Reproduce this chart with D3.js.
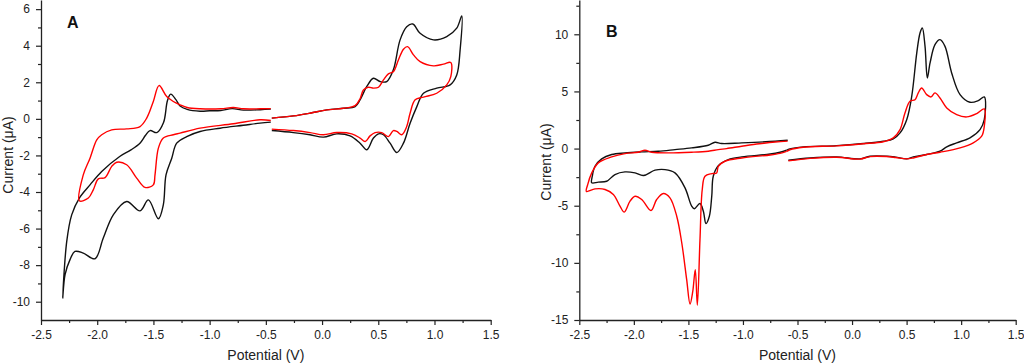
<!DOCTYPE html>
<html>
<head>
<meta charset="utf-8">
<script src="https://cdn.jsdelivr.net/npm/d3@7.9.0/dist/d3.min.js"></script>
<style>
  html, body { margin: 0; padding: 0; background: #fff; }
  svg { display: block; font-family: "Liberation Sans", Arial, sans-serif; }
</style>
</head>
<body>
<svg id="chart" width="1024" height="364"></svg>
<script>
// [potential (V), current (uA)], one loop per array

// panel A
const aBlackNeg = [
  [-0.456, 0.53], [-0.55, 0.50], [-0.70, 0.48], [-0.80, 0.56], [-0.90, 0.46], [-1.00, 0.44],
  [-1.085, 0.42], [-1.20, 0.52], [-1.263, 0.70], [-1.30, 1.05], [-1.346, 1.35], [-1.375, 1.0],
  [-1.41, -0.2], [-1.47, -0.75], [-1.53, -0.64], [-1.57, -0.9], [-1.62, -1.33], [-1.70, -1.70],
  [-1.80, -2.06], [-1.96, -2.88], [-2.064, -3.61], [-2.159, -4.33], [-2.227, -5.25],
  [-2.271, -6.7], [-2.307, -9.8],
  [-2.286, -8.52], [-2.242, -7.7], [-2.198, -7.25], [-2.124, -7.34], [-2.02, -7.65],
  [-1.946, -6.52], [-1.857, -5.25], [-1.738, -4.52], [-1.619, -5.03], [-1.545, -4.43],
  [-1.456, -5.46], [-1.412, -4.7], [-1.388, -3.06], [-1.337, -2.15], [-1.293, -1.33],
  [-1.204, -0.97], [-1.085, -0.69], [-0.907, -0.51], [-0.70, -0.35], [-0.552, -0.235], [-0.456, -0.18]
];
const aRedNeg = [
  [-0.456, 0.56], [-0.55, 0.55], [-0.70, 0.55], [-0.79, 0.62], [-0.90, 0.55], [-1.085, 0.55],
  [-1.20, 0.62], [-1.263, 0.77], [-1.323, 0.95], [-1.382, 1.22], [-1.45, 1.82], [-1.501, 0.95],
  [-1.56, 0.04], [-1.619, -0.42], [-1.738, -0.55], [-1.871, -0.60], [-1.96, -0.87],
  [-2.004, -1.15], [-2.064, -2.15], [-2.124, -3.06], [-2.159, -4.48],
  [-2.079, -4.33], [-2.035, -3.88], [-1.99, -3.28], [-1.93, -3.21], [-1.871, -2.60],
  [-1.826, -2.37], [-1.738, -2.51], [-1.649, -3.24], [-1.575, -3.75], [-1.501, -3.61],
  [-1.486, -3.06], [-1.456, -1.60], [-1.412, -1.05], [-1.323, -0.87], [-1.263, -0.78],
  [-1.085, -0.51], [-0.789, -0.27], [-0.552, -0.05], [-0.456, -0.09]
];
const aBlackPos = [
  [-0.447, 0.04], [-0.255, 0.16], [-0.107, 0.31], [0.042, 0.49], [0.19, 0.58], [0.294, 0.67],
  [0.338, 1.04], [0.398, 1.77], [0.457, 2.22], [0.516, 2.04], [0.575, 2.04], [0.634, 2.68],
  [0.694, 4.32], [0.753, 5.04], [0.807, 5.19], [0.872, 4.68], [0.991, 4.32], [1.109, 4.50],
  [1.198, 4.96], [1.243, 5.63],
  [1.228, 3.77], [1.198, 2.40], [1.139, 1.86], [1.02, 1.68], [0.902, 1.40], [0.843, 0.67],
  [0.783, -0.24], [0.724, -1.33], [0.665, -1.84], [0.605, -1.33], [0.546, -0.87], [0.502, -0.82],
  [0.457, -1.05], [0.398, -1.69], [0.338, -1.33], [0.249, -0.93], [0.13, -0.82], [0.012, -1.0],
  [-0.107, -0.87], [-0.255, -0.75], [-0.447, -0.64]
];
const aRedPos = [
  [-0.447, 0.04], [-0.255, 0.16], [-0.107, 0.31], [0.042, 0.49], [0.19, 0.58], [0.294, 0.72],
  [0.338, 1.1], [0.368, 1.58], [0.412, 1.73], [0.457, 1.68], [0.502, 1.73], [0.546, 2.13],
  [0.59, 2.46], [0.634, 2.58], [0.679, 3.22], [0.724, 3.81], [0.76, 3.95], [0.813, 3.50],
  [0.872, 3.13], [0.991, 2.90], [1.08, 2.99], [1.145, 3.08],
  [1.145, 2.31], [1.109, 1.86], [1.02, 1.40], [0.902, 1.19], [0.828, 1.04], [0.783, 0.31],
  [0.753, -0.42], [0.709, -0.87], [0.665, -0.69], [0.634, -0.64], [0.59, -0.97], [0.531, -0.75],
  [0.472, -0.75], [0.427, -0.93], [0.383, -1.24], [0.338, -1.05], [0.264, -0.82], [0.13, -0.75],
  [0.012, -0.87], [-0.107, -0.75], [-0.255, -0.64], [-0.447, -0.56]
];

// panel B
const bBlackNeg = [
  [-0.59, 0.73], [-0.705, 0.64], [-1.011, 0.50], [-1.195, 0.44], [-1.256, 0.55], [-1.318, 0.29],
  [-1.47, 0.06], [-1.623, -0.09], [-1.776, -0.23], [-1.928, -0.29], [-2.081, -0.38],
  [-2.203, -0.52], [-2.295, -0.90], [-2.356, -1.55], [-2.381, -2.42], [-2.386, -3.0],
  [-2.326, -2.94], [-2.249, -2.86], [-2.173, -2.27], [-2.081, -2.04], [-1.989, -2.13],
  [-1.913, -2.36], [-1.806, -1.89], [-1.714, -1.84], [-1.623, -2.13], [-1.531, -3.44],
  [-1.47, -5.04], [-1.446, -5.27], [-1.394, -4.81], [-1.363, -5.48], [-1.339, -6.56],
  [-1.308, -5.92], [-1.286, -4.17], [-1.272, -2.42], [-1.226, -1.49], [-1.134, -0.96],
  [-1.011, -0.73], [-0.75, -0.48], [-0.66, -0.32], [-0.60, -0.15]
];
const bRedNeg = [
  [-0.59, 0.65], [-0.705, 0.58], [-0.85, 0.42], [-1.011, 0.2], [-1.15, 0.0], [-1.226, -0.09],
  [-1.318, -0.23], [-1.47, -0.32], [-1.684, -0.38], [-1.837, -0.32], [-1.898, -0.15],
  [-1.959, -0.32], [-2.081, -0.44], [-2.203, -0.73], [-2.326, -1.25], [-2.386, -2.13],
  [-2.423, -3.15], [-2.435, -3.75],
  [-2.356, -3.53], [-2.264, -3.58], [-2.188, -4.02], [-2.127, -5.04], [-2.088, -5.56],
  [-2.035, -4.6], [-1.989, -4.17], [-1.928, -4.46], [-1.843, -5.42], [-1.791, -4.46],
  [-1.73, -3.93], [-1.669, -4.31], [-1.607, -5.92], [-1.561, -8.24], [-1.516, -11.45],
  [-1.485, -13.6], [-1.46, -12.5], [-1.437, -10.6], [-1.418, -13.7], [-1.394, -8.0],
  [-1.373, -3.58], [-1.348, -2.42], [-1.286, -2.19], [-1.241, -2.13], [-1.226, -1.55],
  [-1.165, -1.11], [-1.011, -0.82], [-0.75, -0.56], [-0.66, -0.42], [-0.60, -0.25]
];
const bBlackPos = [
  [-0.60, -0.15], [-0.57, -0.03], [-0.447, 0.15], [-0.141, 0.26], [0.103, 0.44], [0.286, 0.64],
  [0.378, 0.85], [0.44, 1.37], [0.501, 2.53], [0.547, 4.57], [0.593, 8.36], [0.623, 10.11],
  [0.644, 10.55], [0.669, 8.94], [0.69, 6.18], [0.715, 7.49], [0.76, 9.09], [0.806, 9.53],
  [0.852, 8.94], [0.913, 6.62], [0.99, 4.72], [1.081, 4.05], [1.157, 4.2], [1.212, 4.52],
  [1.212, 2.53], [1.173, 1.66], [1.081, 0.94], [0.959, 0.50], [0.868, 0.15], [0.806, -0.23],
  [0.684, -0.52], [0.561, -0.73], [0.501, -0.90], [0.40, -0.75], [0.318, -0.67], [0.165, -0.67],
  [0.073, -0.9], [-0.141, -0.73], [-0.385, -0.82], [-0.584, -1.02]
];
const bRedPos = [
  [-0.60, -0.25], [-0.57, -0.1], [-0.447, 0.12], [-0.141, 0.24], [0.103, 0.42], [0.286, 0.6],
  [0.378, 0.94], [0.44, 1.66], [0.485, 3.12], [0.531, 4.14], [0.577, 4.28], [0.607, 4.87],
  [0.638, 5.30], [0.684, 4.72], [0.724, 4.52], [0.76, 4.87], [0.806, 4.43], [0.868, 3.56],
  [0.959, 2.97], [1.051, 2.77], [1.143, 3.06], [1.212, 3.47],
  [1.212, 1.95], [1.188, 1.08], [1.111, 0.50], [0.99, 0.06], [0.806, -0.32], [0.684, -0.52],
  [0.561, -0.82], [0.501, -0.9], [0.40, -0.78], [0.318, -0.7], [0.165, -0.7], [0.073, -0.92],
  [-0.141, -0.76], [-0.385, -0.86], [-0.584, -1.08]
];

// ticks
const xTicks = [-2.5, -2.0, -1.5, -1.0, -0.5, 0.0, 0.5, 1.0, 1.5];
const xMinor = [-2.25, -1.75, -1.25, -0.75, -0.25, 0.25, 0.75, 1.25];
const aYTicks = [-10, -8, -6, -4, -2, 0, 2, 4, 6];
const aYMinor = [-9, -7, -5, -3, -1, 1, 3, 5];
const bYTicks = [-15, -10, -5, 0, 5, 10];
const bYMinor = [-12.5, -7.5, -2.5, 2.5, 7.5, 12.5];

const svg = d3.select('#chart');
svg.append('rect').attr('width', 1024).attr('height', 364).attr('fill', '#fff');

function drawPanel(opts) {
  const x = d3.scaleLinear().domain([-2.5, 1.5]).range(opts.xRange);
  const y = d3.scaleLinear().domain(opts.yDomain).range([320, 0]);
  const g = svg.append('g');

  const line = d3.line()
    .x(d => x(d[0]))
    .y(d => y(d[1]))
    .curve(d3.curveCatmullRom.alpha(0.5));

  opts.series.forEach(s => {
    g.append('path')
      .attr('d', line(s.data))
      .attr('fill', 'none')
      .attr('stroke', s.color)
      .attr('stroke-width', 1.4)
      .attr('stroke-linejoin', 'round');
  });

  // minor ticks first so major axes sit on top
  g.append('g')
    .attr('transform', 'translate(0,320)')
    .call(d3.axisBottom(x).tickValues(xMinor).tickSize(3).tickFormat(''))
    .call(a => a.select('.domain').remove());
  g.append('g')
    .attr('transform', `translate(${opts.xRange[0]},0)`)
    .call(d3.axisLeft(y).tickValues(opts.yMinor).tickSize(3).tickFormat(''))
    .call(a => a.select('.domain').remove());

  const xAxis = g.append('g')
    .attr('transform', 'translate(0,320)')
    .call(d3.axisBottom(x).tickValues(xTicks).tickSize(5).tickSizeOuter(0).tickPadding(5)
      .tickFormat(d => d.toFixed(1)));
  const yAxis = g.append('g')
    .attr('transform', `translate(${opts.xRange[0]},0)`)
    .call(d3.axisLeft(y).tickValues(opts.yTicks).tickSize(5).tickSizeOuter(0).tickPadding(6)
      .tickFormat(d => String(d)));

  [xAxis, yAxis].forEach(a => {
    a.selectAll('text').attr('font-size', 12).attr('fill', '#222')
      .attr('font-family', '"Liberation Sans", Arial, sans-serif');
    a.select('.domain').attr('stroke', '#222').attr('stroke-width', 1.3);
  });
  g.selectAll('.tick line').attr('stroke', '#222').attr('stroke-width', 1.2);

  const mid = (opts.xRange[0] + opts.xRange[1]) / 2;
  g.append('text')
    .attr('x', mid).attr('y', 360)
    .attr('text-anchor', 'middle')
    .attr('font-size', 14).attr('fill', '#222')
    .text('Potential (V)');
  g.append('text')
    .attr('transform', `translate(${opts.yLabelX},${opts.yLabelY}) rotate(-90)`)
    .attr('text-anchor', 'middle')
    .attr('font-size', 14).attr('fill', '#222')
    .text('Current (\u03bcA)');
  g.append('text')
    .attr('x', opts.letterPos[0]).attr('y', opts.letterPos[1])
    .attr('font-size', 16).attr('font-weight', 'bold').attr('fill', '#111')
    .text(opts.letter);
}

drawPanel({
  xRange: [41, 490.7],
  yDomain: [-11, 6.5],
  yTicks: aYTicks,
  yMinor: aYMinor,
  series: [
    { data: aBlackNeg, color: '#111' },
    { data: aBlackPos, color: '#111' },
    { data: aRedNeg, color: '#f00' },
    { data: aRedPos, color: '#f00' }
  ],
  yLabelX: 13, yLabelY: 155,
  letter: 'A', letterPos: [67, 28]
});

drawPanel({
  xRange: [579.3, 1015.7],
  yDomain: [-15, 13],
  yTicks: bYTicks,
  yMinor: bYMinor,
  series: [
    { data: bBlackNeg, color: '#111' },
    { data: bBlackPos, color: '#111' },
    { data: bRedNeg, color: '#f00' },
    { data: bRedPos, color: '#f00' }
  ],
  yLabelX: 551, yLabelY: 162,
  letter: 'B', letterPos: [606, 37]
});
</script>
</body>
</html>
